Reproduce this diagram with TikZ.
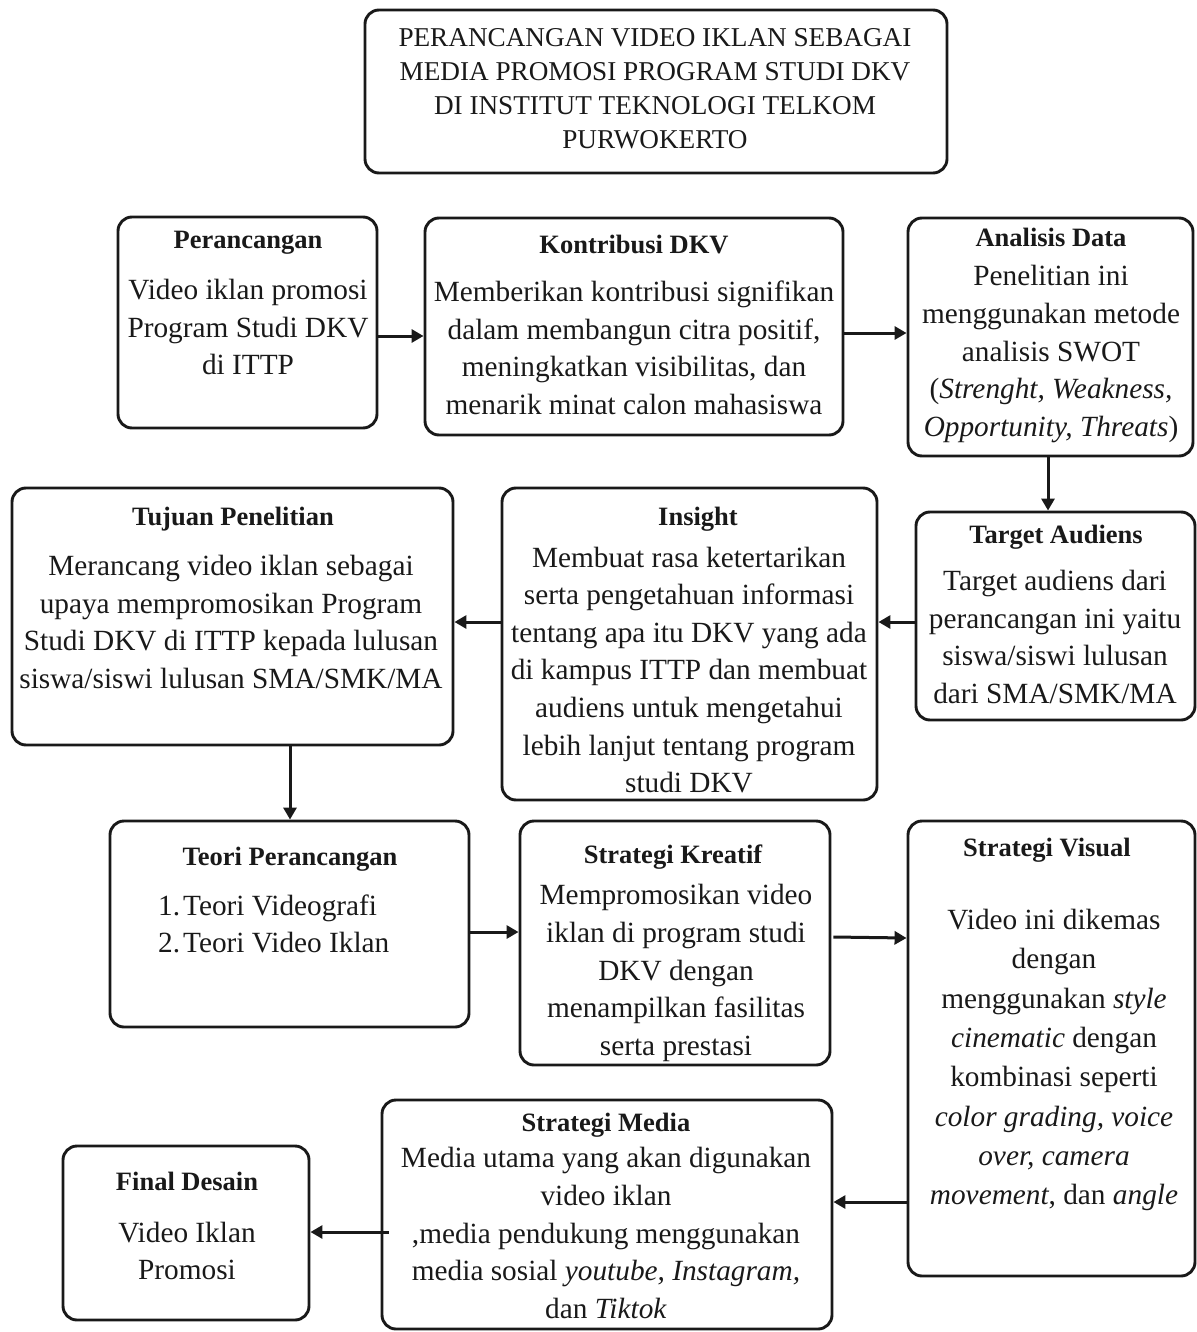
\documentclass[tikz,border=0pt]{standalone}
\usepackage{fontspec}
\setmainfont{Liberation Serif}
\usetikzlibrary{arrows.meta}
\tikzset{
  box/.style={draw=black!90, line width=2.9pt, rounded corners=14pt, rectangle, inner sep=0pt, fill=none},
  ttl/.style={font=\fontsize{26.5}{30}\selectfont\bfseries, inner sep=0pt, text=black!90},
  body/.style={font=\fontsize{29.3}{37.6}\selectfont, align=center, inner sep=0pt, text=black!90},
  arr/.style={line width=3pt, -{Triangle[length=12pt,width=13pt]}, black!90}
}
\begin{document}
\begin{tikzpicture}[x=1pt,y=-1pt]
\useasboundingbox (0,0) rectangle (1196,1332);
% boxes
\node[box, minimum width=582pt, minimum height=163pt] (b1) at (656,91.5) {};
\node[box, minimum width=259pt, minimum height=211pt] (b2) at (247.5,322.5) {};
\node[box, minimum width=418pt, minimum height=217pt] (b3) at (634,326.5) {};
\node[box, minimum width=285pt, minimum height=238pt] (b4) at (1050.5,337) {};
\node[box, minimum width=279pt, minimum height=208pt] (b5) at (1055.5,616) {};
\node[box, minimum width=375pt, minimum height=312pt] (b6) at (689.5,644) {};
\node[box, minimum width=441pt, minimum height=257pt] (b7) at (232.5,616.5) {};
\node[box, minimum width=359pt, minimum height=206pt] (b8) at (289.5,924) {};
\node[box, minimum width=310pt, minimum height=244pt] (b9) at (675,943) {};
\node[box, minimum width=287pt, minimum height=455pt] (b10) at (1051.5,1048.5) {};
\node[box, minimum width=450pt, minimum height=229pt] (b11) at (607,1214.5) {};
\node[box, minimum width=246pt, minimum height=174pt] (b12) at (186,1233) {};
% header
\node[body, font=\fontsize{27.2}{34}\selectfont] (h1) at (655,89) {PERANCANGAN VIDEO IKLAN SEBAGAI\\MEDIA PROMOSI PROGRAM STUDI DKV\\DI INSTITUT TEKNOLOGI TELKOM\\PURWOKERTO};
% Perancangan
\node[ttl] (t2) at (248,243) {Perancangan};
\node[body] (x2) at (248,327) {Video iklan promosi\\Program Studi DKV\\di ITTP};
% Kontribusi
\node[ttl] (t3) at (634,245) {Kontribusi DKV};
\node[body] (x3) at (634,348) {Memberikan kontribusi signifikan\\dalam membangun citra positif,\\meningkatkan visibilitas, dan\\menarik minat calon mahasiswa};
% Analisis
\node[ttl] (t4) at (1051,237) {Analisis Data};
\node[body] (x4) at (1051,354) {Penelitian ini\\menggunakan metode\\analisis SWOT\\(\textit{Strenght, Weakness,}\\\textit{Opportunity, Threats})};
% Target
\node[ttl] (t5) at (1056,537) {Target Audiens};
\node[body] (x5) at (1055,637) {Target audiens dari\\perancangan ini yaitu\\siswa/siswi lulusan\\dari SMA/SMK/MA};
% Insight
\node[ttl] (t6) at (698,519) {Insight};
\node[body] (x6) at (689,670) {Membuat rasa ketertarikan\\serta pengetahuan informasi\\tentang apa itu DKV yang ada\\di kampus ITTP dan membuat\\audiens untuk mengetahui\\lebih lanjut tentang program\\studi DKV};
% Tujuan
\node[ttl] (t7) at (233,519) {Tujuan Penelitian};
\node[body] (x7) at (231,622) {Merancang video iklan sebagai\\upaya mempromosikan Program\\Studi DKV di ITTP kepada lulusan\\siswa/siswi lulusan SMA/SMK/MA};
% Teori
\node[ttl] (t8) at (290,859) {Teori Perancangan};
\node[body, align=left, anchor=west] (x8) at (158,924) {\makebox[25pt][l]{1.}Teori Videografi\\\makebox[25pt][l]{2.}Teori Video Iklan};
% Kreatif
\node[ttl] (t9) at (673,857) {Strategi Kreatif};
\node[body] (x9) at (676,973) {Mempromosikan video\\iklan di program studi\\DKV dengan\\menampilkan fasilitas\\serta prestasi};
% Visual
\node[ttl] (t10) at (1047,850) {Strategi Visual};
\node[body, font=\fontsize{29.3}{39.3}\selectfont] (x10) at (1054,1060) {Video ini dikemas\\dengan\\menggunakan \textit{style}\\\textit{cinematic} dengan\\kombinasi seperti\\\textit{color grading, voice}\\\textit{over, camera}\\\textit{movement}, dan \textit{angle}};
% Media
\node[ttl] (t11) at (606,1125) {Strategi Media};
\node[body] (x11) at (606,1233) {Media utama yang akan digunakan\\video iklan\\,media pendukung menggunakan\\media sosial \textit{youtube, Instagram,}\\dan \textit{Tiktok}};
% Final
\node[ttl] (t12) at (187,1181) {Final Desain};
\node[body] (x12) at (187,1251) {Video Iklan\\Promosi};
% connectors
\draw[arr] ([yshift=-13.5pt]b2.east) -- ([yshift=-13.5pt]b2.east -| b3.west);
\draw[arr] ([yshift=-6.5pt]b3.east) -- ([yshift=-6.5pt]b3.east -| b4.west);
\draw[arr] ([xshift=-2.5pt]b4.south) -- ([xshift=-2.5pt]b4.south |- b5.north);
\draw[arr] ([yshift=-6pt]b5.west) -- ([yshift=-6pt]b5.west -| b6.east);
\draw[arr] ([yshift=22pt]b6.west) -- ([yshift=22pt]b6.west -| b7.east);
\draw[arr] ([xshift=57.5pt]b7.south) -- ([xshift=57.5pt]b7.south |- b8.north);
\draw[arr] ([yshift=-8pt]b8.east) -- ([yshift=-8pt]b8.east -| b9.west);
\draw[arr] ([xshift=2pt,yshift=6pt]b9.east) -- ([yshift=110.5pt]b10.west);
\draw[arr] ([yshift=-153.5pt]b10.west) -- ([yshift=-153.5pt]b10.west -| b11.east);
\draw[arr] ([xshift=8pt,yshift=-17.5pt]b11.west) -- ([yshift=-17.5pt]b11.west -| b12.east);
\end{tikzpicture}
\end{document}
